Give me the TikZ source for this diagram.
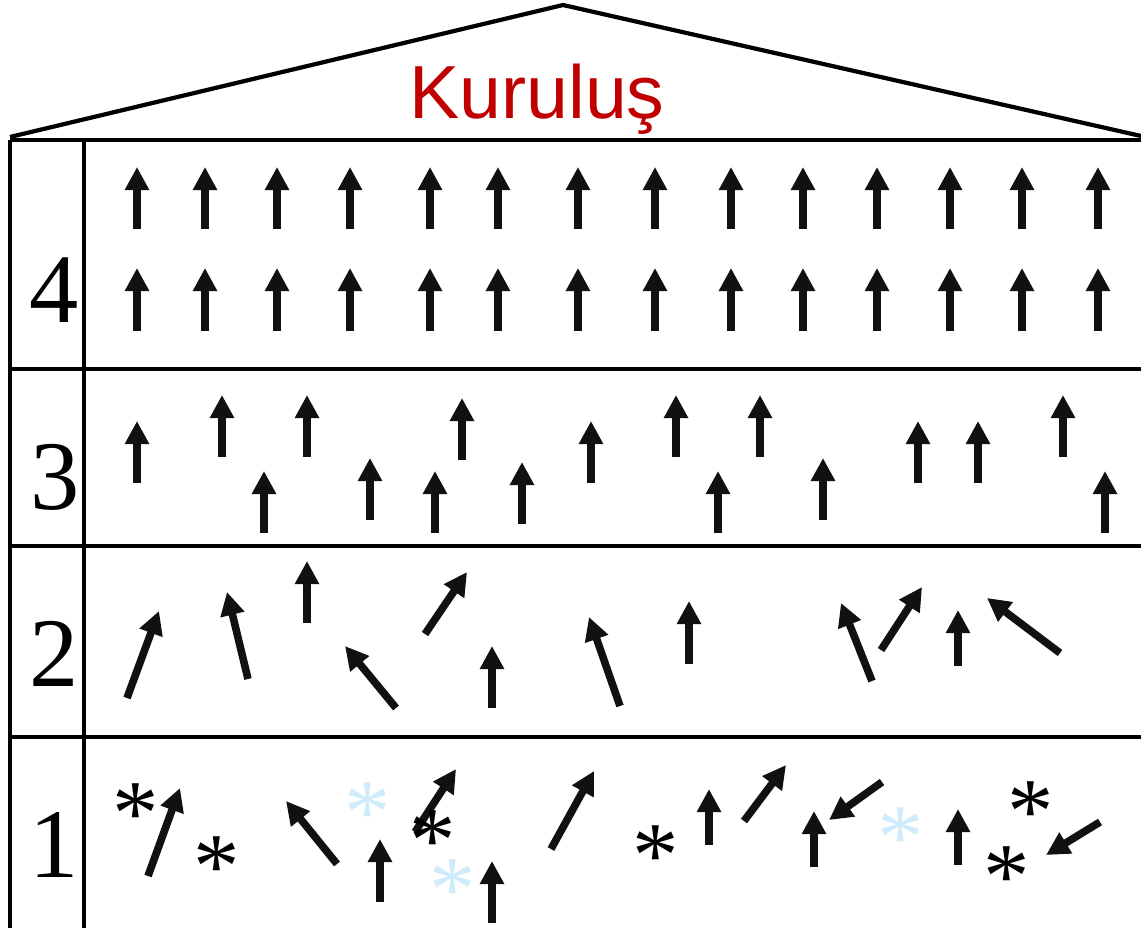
\documentclass[tikz,border=0pt]{standalone}
\usepackage{fontspec}
\usetikzlibrary{arrows.meta}
\newfontfamily\titlefont{Liberation Sans}
\newfontfamily\levelfont{Liberation Serif}
\definecolor{KurulusRed}{HTML}{C00000}
\definecolor{SpinBlack}{HTML}{111111}
\definecolor{DefectBlue}{HTML}{CFEBFC}

\begin{document}
\begin{tikzpicture}[x=0.025cm, y=-0.025cm,
    frame/.style={line width=3pt, black},
    wall/.style={line width=2.3pt, black},
    spin/.style={line width=5.4pt, SpinBlack, -{Triangle[length=16.5pt, width=16.5pt]}},
    level/.style={font=\levelfont\fontsize{70}{70}\selectfont, inner sep=0pt},
    defect/.style={font=\levelfont\fontsize{66}{66}\selectfont, inner sep=0pt, anchor=base}]
    \useasboundingbox (0,0) rectangle (1141,928);

    % Roof and title
    \draw[frame, line join=miter] (10,137) -- (563,5) -- (1141,136);
    \node[KurulusRed, font=\titlefont\fontsize{53.5}{53.5}\selectfont, anchor=base] (kurulus) at (537,118) {Kuruluş};

    % Frame of the levels
    \draw[frame] (10,140) -- (1141,140);
    \draw[frame] (10,369) -- (1141,369);
    \draw[frame] (10,546) -- (1141,546);
    \draw[frame] (10,737) -- (1141,737);
    \draw[wall] (10,140) -- (10,928);
    \draw[wall] (84,140) -- (84,928);

    % Level numbers
    \node[level] (lvl4) at (54,290) {4};
    \node[level] (lvl3) at (55,477) {3};
    \node[level] (lvl2) at (54,654) {2};
    \node[level] (lvl1) at (54,845) {1};

    % Level 4 - two ordered rows
    \foreach \x in {137,205,277,350,430,498,578,655,731,803,877,950,1022,1098} {
        \draw[spin] (\x,229) -- (\x,167);
        \draw[spin] (\x,331) -- (\x,268);
    }

    % Level 3 - aligned, shifted up and down
    \foreach \x/\y in {137/421,222/395,264/471,307/395,370/458,435/471,462/398,522/462,
                       591/421,676/395,718/471,760/395,823/458,918/421,978/421,1063/395,1105/471} {
        \draw[spin] (\x,\y+62) -- (\x,\y);
    }

    % Level 2 - partly tilted
    \draw[spin] (127,698) -- (159,611);
    \draw[spin] (248,679) -- (227,592);
    \draw[spin] (307,623) -- (307,561);
    \draw[spin] (396,708) -- (345,646);
    \draw[spin] (425,634) -- (467,572);
    \draw[spin] (492,708) -- (492,646);
    \draw[spin] (620,706) -- (589,617);
    \draw[spin] (689,664) -- (689,601);
    \draw[spin] (872,681) -- (841,603);
    \draw[spin] (881,650) -- (922,587);
    \draw[spin] (958,666) -- (958,610);
    \draw[spin] (1060,653) -- (987,598);

    % Level 1 - disordered with defects
    \draw[spin] (148,876) -- (180,788);
    \draw[spin] (337,864) -- (286,801);
    \draw[spin] (380,902) -- (380,839);
    \draw[spin] (415,832) -- (456,769);
    \draw[spin] (492,923) -- (492,861);
    \draw[spin] (551,849) -- (594,771);
    \draw[spin] (709,845) -- (709,789);
    \draw[spin] (744,821) -- (786,765);
    \draw[spin] (882,782) -- (829,820);
    \draw[spin] (814,867) -- (814,811);
    \draw[spin] (958,865) -- (958,809);
    \draw[spin] (1100,822) -- (1046,855);

    \node[defect] (d1) at (136,844) {*};
    \node[defect] (d2) at (217,897) {*};
    \node[defect, DefectBlue] (d3) at (368,843) {*};
    \node[defect] (d4) at (433,871) {*};
    \node[defect, DefectBlue] (d5) at (453,920) {*};
    \node[defect] (d6) at (656,886) {*};
    \node[defect, DefectBlue] (d7) at (901,868) {*};
    \node[defect] (d8) at (1031,842) {*};
    \node[defect] (d9) at (1007,907) {*};
\end{tikzpicture}
\end{document}
